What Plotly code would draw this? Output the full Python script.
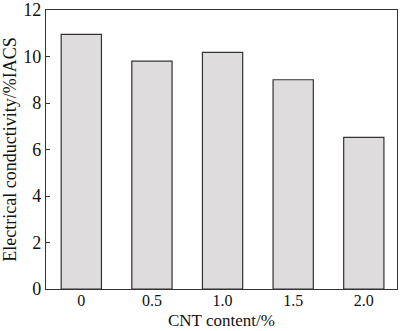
import plotly.graph_objects as go

cnt_content = ["0", "0.5", "1.0", "1.5", "2.0"]
conductivity = [10.95, 9.8, 10.18, 9.0, 6.52]
y_ticks = [0, 2, 4, 6, 8, 10, 12]

serif = "Liberation Serif, Times New Roman, serif"

fig = go.Figure(
    go.Bar(
        x=cnt_content,
        y=conductivity,
        marker=dict(color="#dfdcdd", line=dict(color="#333333", width=1.2)),
        width=0.57,
    )
)

fig.update_layout(
    width=400,
    height=331,
    margin=dict(l=46, r=3, t=10, b=42),
    paper_bgcolor="white",
    plot_bgcolor="white",
    showlegend=False,
    font=dict(family=serif, size=18, color="#111111"),
)

fig.update_xaxes(
    type="category",
    range=[-0.5, 4.47],
    automargin=False,
    showline=True,
    linecolor="#333333",
    linewidth=1.2,
    mirror=True,
    ticks="",
    showgrid=False,
    tickfont=dict(family=serif, size=16),
    ticklabelstandoff=-3,
    ticklabeloverflow="allow",
)

# x-axis title placed against the bottom edge of the figure
fig.add_annotation(
    text="CNT content/%",
    xref="paper",
    yref="paper",
    x=0.5,
    y=0,
    yanchor="bottom",
    yshift=-43,
    showarrow=False,
    font=dict(family=serif, size=17, color="#111111"),
)

fig.update_yaxes(
    range=[0, 12],
    tickvals=y_ticks,
    automargin=False,
    showline=True,
    linecolor="#333333",
    linewidth=1.2,
    mirror=True,
    ticks="inside",
    ticklen=4,
    tickcolor="#333333",
    showgrid=False,
    zeroline=False,
    tickfont=dict(family=serif, size=18),
    ticklabeloverflow="allow",
    title=dict(text="Electrical conductivity/%IACS", font=dict(family=serif, size=18), standoff=4),
)

fig.write_html("out.html")
